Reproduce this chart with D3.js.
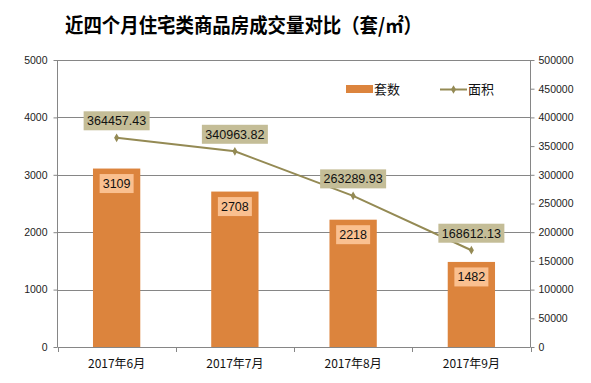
<!DOCTYPE html>
<html><head><meta charset="utf-8">
<script src="https://cdn.jsdelivr.net/npm/d3@7"></script>
<style>body{margin:0;background:#fff}svg{display:block}</style>
</head><body>
<svg id="c" width="591" height="383"></svg>
<script>
const categories = ["2017年6月","2017年7月","2017年8月","2017年9月"];
const countValues = [3109, 2708, 2218, 1482];
const areaValues = [364457.43, 340963.82, 263289.93, 168612.13];
const leftTicks = [0,1000,2000,3000,4000,5000];
const rightTicks = [0,50000,100000,150000,200000,250000,300000,350000,400000,450000,500000];
const titleText = "近四个月住宅类商品房成交量对比（套/㎡）";
const seriesNames = ["套数","面积"];

const svg = d3.select("#c");
const L = 57.5, R = 530.5, T = 60, B = 347;
const grid = "#868686";
const barColor = "#dc843d", lineColor = "#948a54";
const numFont = "'Liberation Sans', Arial, sans-serif";
const cjkFont = "'Noto Sans CJK SC', sans-serif";

const x = d3.scaleBand().domain(categories).range([L, R]);
const yL = d3.scaleLinear().domain([0,5000]).range([B, T]);
const yR = d3.scaleLinear().domain([0,500000]).range([B, T]);

// title
svg.append("text").attr("x", 65).attr("y", 33)
  .attr("font-family", cjkFont).attr("font-weight", "bold").attr("font-size", 20)
  .attr("textLength", 357).attr("lengthAdjust", "spacingAndGlyphs")
  .attr("fill", "#000").text(titleText);

// gridlines
svg.append("g").selectAll("line").data(leftTicks.filter(d => d > 0)).join("line")
  .attr("x1", L).attr("x2", R)
  .attr("y1", d => Math.round(yL(d)) + 0.5).attr("y2", d => Math.round(yL(d)) + 0.5)
  .attr("stroke", grid).attr("stroke-width", 1);

// left axis
const gl = svg.append("g").attr("transform", `translate(${L},0)`)
  .call(d3.axisLeft(yL).tickValues(leftTicks).tickSize(4).tickPadding(6).tickFormat(d3.format("d")));
gl.select(".domain").attr("stroke", grid).attr("d", `M-0,${T}V${B}`);
gl.selectAll(".tick line").attr("stroke", grid);
gl.selectAll(".tick text").attr("font-family", numFont).attr("font-size", 10.5).attr("fill", "#222");

// right axis
const gr = svg.append("g").attr("transform", `translate(${R},0)`)
  .call(d3.axisRight(yR).tickValues(rightTicks).tickSize(4).tickPadding(4).tickFormat(d3.format("d")));
gr.select(".domain").attr("stroke", grid).attr("d", `M0,${T}V${B}`);
gr.selectAll(".tick line").attr("stroke", grid);
gr.selectAll(".tick text").attr("font-family", numFont).attr("font-size", 10.5).attr("fill", "#222");

// bottom axis
const bounds = [L].concat(categories.map(c => x(c) + x.bandwidth()));
svg.append("line").attr("x1", L).attr("x2", R).attr("y1", B + 0.5).attr("y2", B + 0.5).attr("stroke", grid);
svg.append("g").selectAll("line").data(bounds).join("line")
  .attr("x1", d => Math.round(d) + 0.5).attr("x2", d => Math.round(d) + 0.5)
  .attr("y1", B).attr("y2", B + 5).attr("stroke", grid);
svg.append("g").selectAll("text").data(categories).join("text")
  .attr("x", d => x(d) + x.bandwidth()/2).attr("y", 368)
  .attr("text-anchor", "middle").attr("font-family", cjkFont).attr("font-size", 12).attr("fill", "#111")
  .text(d => d);

// bars
const bw = x.bandwidth() * 0.4;
const data = categories.map((c, i) => ({c, n: countValues[i], a: areaValues[i]}));
svg.append("g").selectAll("rect").data(data).join("rect")
  .attr("x", d => x(d.c) + x.bandwidth()/2 - bw/2).attr("width", bw)
  .attr("y", d => yL(d.n)).attr("height", d => B - yL(d.n))
  .attr("fill", barColor);

// bar labels
const bl = svg.append("g").selectAll("g").data(data).join("g")
  .attr("transform", d => `translate(${x(d.c) + x.bandwidth()/2},${yL(d.n) + 15})`);
bl.append("rect").attr("x", -17).attr("y", -9.5).attr("width", 34).attr("height", 19).attr("fill", "#fac090");
bl.append("text").attr("text-anchor", "middle").attr("dy", "0.36em")
  .attr("font-family", numFont).attr("font-size", 12.5).attr("fill", "#111").text(d => d.n);

// line
const line = d3.line().x(d => x(d.c) + x.bandwidth()/2).y(d => yR(d.a));
svg.append("path").datum(data).attr("d", line).attr("fill", "none")
  .attr("stroke", lineColor).attr("stroke-width", 2);
svg.append("g").selectAll("path").data(data).join("path")
  .attr("transform", d => `translate(${x(d.c) + x.bandwidth()/2},${yR(d.a)})`)
  .attr("d", d3.symbol(d3.symbolDiamond, 22)).attr("fill", lineColor);

// line labels
const ll = svg.append("g").selectAll("g").data(data).join("g")
  .attr("transform", d => `translate(${x(d.c) + x.bandwidth()/2},${yR(d.a) - 17})`);
ll.append("rect").attr("x", -33).attr("y", -9.5).attr("width", 66).attr("height", 19).attr("fill", "#c4bd97");
ll.append("text").attr("text-anchor", "middle").attr("dy", "0.36em")
  .attr("font-family", numFont).attr("font-size", 12.5).attr("fill", "#111").text(d => d3.format(".2f")(d.a));

// legend
const lg = svg.append("g");
lg.append("rect").attr("x", 346).attr("y", 85).attr("width", 27).attr("height", 8).attr("fill", barColor);
lg.append("text").attr("x", 374).attr("y", 89).attr("dy", "0.36em").attr("font-family", cjkFont)
  .attr("font-size", 13).attr("fill", "#111").text(seriesNames[0]);
lg.append("line").attr("x1", 440).attr("x2", 467).attr("y1", 89.5).attr("y2", 89.5)
  .attr("stroke", lineColor).attr("stroke-width", 2);
lg.append("path").attr("transform", "translate(453.5,89.5)").attr("d", d3.symbol(d3.symbolDiamond, 22)).attr("fill", lineColor);
lg.append("text").attr("x", 468).attr("y", 89).attr("dy", "0.36em").attr("font-family", cjkFont)
  .attr("font-size", 13).attr("fill", "#111").text(seriesNames[1]);
</script>
</body></html>
